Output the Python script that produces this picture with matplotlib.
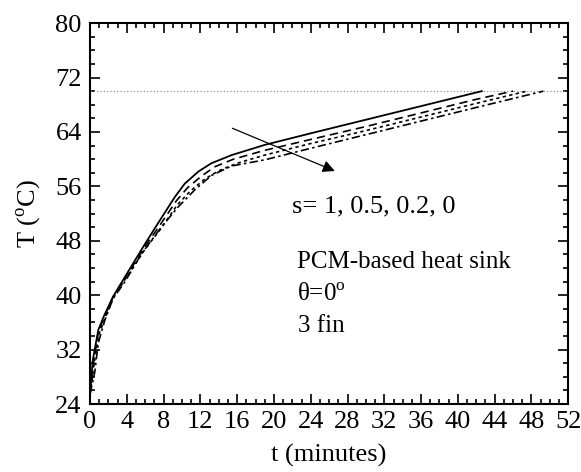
import matplotlib
matplotlib.use("Agg")
import matplotlib.pyplot as plt
from matplotlib.ticker import MultipleLocator

plt.rcParams["font.family"] = ["Liberation Serif", "DejaVu Serif"]
plt.rcParams["mathtext.fontset"] = "custom"
plt.rcParams["mathtext.rm"] = "Liberation Serif"

# s = 1 (solid)
t_s1 = [0, 0.3, 0.9, 1.5, 2.5, 3.8, 6.0, 7.4, 9.25, 10.3, 11.8, 13.2, 15.4, 19, 24, 30, 36, 42.6]
T_s1 = [25.5, 30.5, 34.9, 36.9, 39.8, 42.7, 47.6, 50.6, 54.5, 56.4, 58.2, 59.4, 60.6, 62.1, 63.8, 65.8, 67.8, 70.0]
# s = 0.5 (dashed)
t_s05 = [0, 0.35, 0.9, 1.5, 2.5, 3.8, 6.0, 7.5, 9.4, 10.6, 12.2, 13.6, 15.6, 19, 24, 30, 36, 42, 46.0]
T_s05 = [25.5, 30, 34.5, 36.7, 39.7, 42.5, 47.2, 50.1, 53.9, 55.8, 57.6, 58.9, 60.0, 61.3, 62.9, 64.8, 66.8, 68.8, 70.0]
# s = 0.2 (dotted)
t_s02 = [0, 0.4, 0.9, 1.6, 2.5, 3.8, 6.0, 7.6, 9.5, 10.9, 12.5, 14.0, 16.0, 19, 24, 30, 36, 42, 47.5]
T_s02 = [25.5, 29.5, 34, 36.5, 39.6, 42.3, 46.8, 49.6, 53.3, 55.3, 57.1, 58.3, 59.4, 60.6, 62.3, 64.2, 66.2, 68.2, 70.0]
# s = 0 (dash-dot)
t_s0 = [0, 0.5, 0.9, 1.6, 2.5, 3.8, 5.6, 7.8, 9.6, 11.4, 13.2, 15.4, 19, 24, 30, 36, 42, 49.3]
T_s0 = [25.5, 28.6, 33, 36.3, 39.5, 42.0, 46.1, 50.1, 53, 55.5, 57.6, 59.0, 59.9, 61.6, 63.6, 65.6, 67.6, 70.0]

T_melt = 70

fig = plt.figure(figsize=(5.81, 4.72), dpi=100)
ax = fig.add_axes([0.155, 0.144, 0.823, 0.807])

ax.axhline(T_melt, color="gray", linestyle=(0, (1, 2)), linewidth=0.8)
ax.plot(t_s1, T_s1, color="black", linestyle="-", linewidth=1.3)
ax.plot(t_s05, T_s05, color="black", linestyle=(0, (5, 3)), linewidth=1.2)
ax.plot(t_s02, T_s02, color="black", linestyle=(0, (2, 2)), linewidth=1.2)
ax.plot(t_s0, T_s0, color="black", linestyle=(0, (5, 2, 1.5, 2)), linewidth=1.2)

ax.annotate("", xy=(26.9, 58.1), xytext=(15.2, 64.7),
            arrowprops=dict(arrowstyle="-|>", color="black", lw=0.9,
                            mutation_scale=18))
ax.text(22.0, 53.0, "s= 1, 0.5, 0.2, 0", fontsize=19, va="center")
ax.text(22.5, 44.9, "PCM-based heat sink", fontsize=18, va="center")
ax.text(22.5, 40.0, "θ=0$^\\mathregular{o}$", fontsize=18, va="center")
ax.text(22.6, 35.5, "3 fin", fontsize=18, va="center")

ax.set_xlim(0, 52)
ax.set_ylim(24, 80)
ax.xaxis.set_major_locator(MultipleLocator(4))
ax.xaxis.set_minor_locator(MultipleLocator(1))
ax.yaxis.set_major_locator(MultipleLocator(8))
ax.yaxis.set_minor_locator(MultipleLocator(2))
ax.tick_params(which="both", direction="in", top=True, right=True, width=1.2)
ax.tick_params(which="major", length=7, labelsize=19)
ax.tick_params(axis="x", which="major", pad=5)
ax.tick_params(axis="y", which="major", pad=6)
ax.tick_params(which="minor", length=3.5)
for sp in ax.spines.values():
    sp.set_linewidth(1.5)

ax.set_xlabel("t (minutes)", fontsize=19, labelpad=8)
ax.set_ylabel("T ($^\\mathregular{o}$C)", fontsize=19, labelpad=9)

fig.savefig("out.png", dpi=100)
